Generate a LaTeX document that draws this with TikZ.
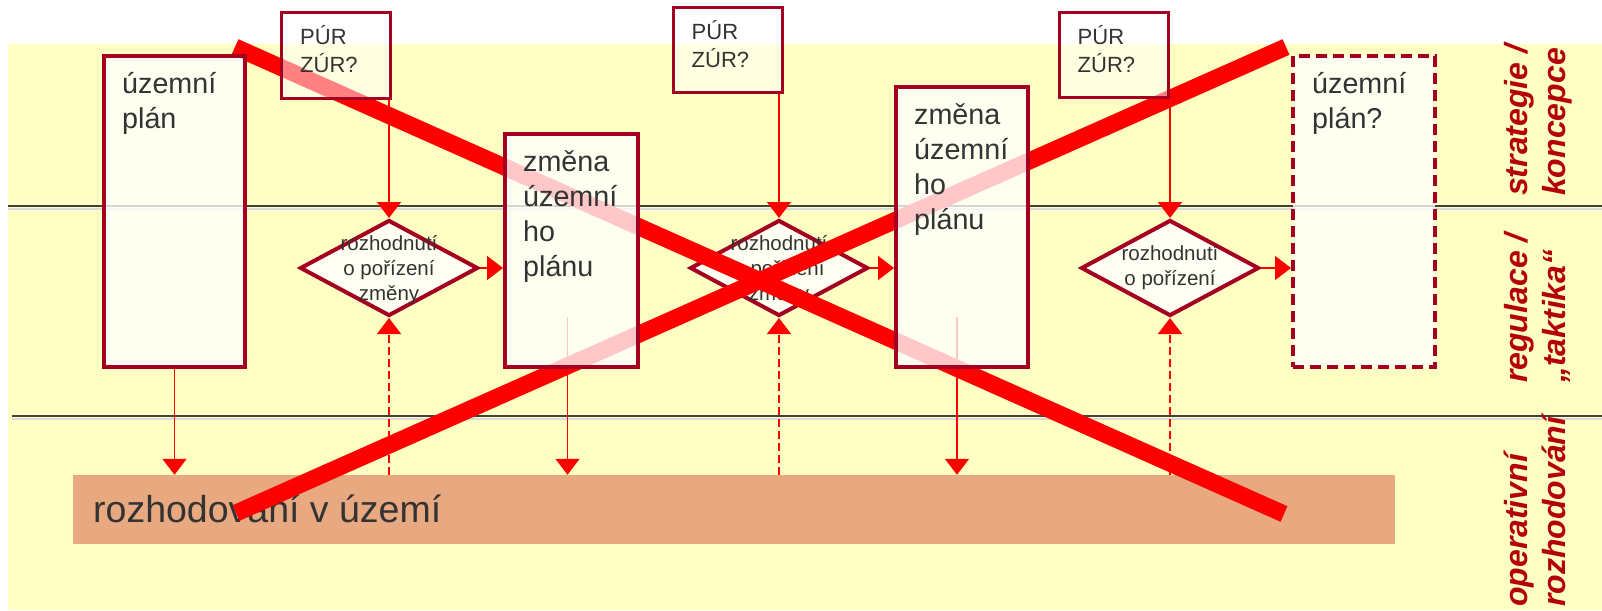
\documentclass[tikz,border=0pt]{standalone}
\usepackage{fontspec}
\setmainfont{Liberation Sans}
\usetikzlibrary{shapes.geometric,arrows.meta}

\definecolor{planred}{RGB}{165,0,33}
\definecolor{crossred}{RGB}{255,0,0}
\definecolor{bgyellow}{RGB}{255,255,195}
\definecolor{bandorange}{RGB}{232,168,128}
\definecolor{labelred}{RGB}{180,0,10}
\definecolor{txtgray}{RGB}{51,51,51}

\pgfdeclarelayer{bg}
\pgfdeclarelayer{mid}
\pgfsetlayers{bg,mid,main}

\begin{document}
\begin{tikzpicture}[x=1pt, y=-1pt,
    plan/.style={draw=planred, line width=4pt, fill=white, fill opacity=0.78, inner sep=0pt},
    pur/.style={draw=planred, line width=3pt, fill=white, fill opacity=0.5, inner sep=0pt,
        minimum width=109pt, minimum height=85pt},
    decision/.style={diamond, draw=planred, line width=4pt, fill=white, fill opacity=0.8, inner sep=0pt,
        minimum width=178pt, minimum height=96pt},
    plantext/.style={anchor=north west, inner sep=0pt, align=left, text=txtgray,
        font=\fontsize{28.7}{35}\selectfont},
    purtext/.style={anchor=north west, inner sep=0pt, align=left, text=txtgray,
        font=\fontsize{22}{28}\selectfont},
    dectext/.style={inner sep=0pt, align=center, text=txtgray, font=\fontsize{20.5}{25}\selectfont},
    flow/.style={draw=crossred, line width=1.5pt, -{Triangle[width=24pt,length=16pt]}},
    maybe/.style={flow, dash pattern=on 8pt off 4pt},
    cross/.style={draw=crossred, line width=17pt},
    level/.style={draw=black!75, line width=2.5pt},
    side/.style={rotate=90, anchor=north west, inner sep=0pt, align=left, text=labelred,
        font=\fontsize{32}{38}\selectfont\bfseries\itshape}]

\useasboundingbox (0,0) rectangle (1602,610);

\begin{pgfonlayer}{bg}
  \fill[bgyellow] (8,44) rectangle (1602,610);
  \draw[gray!30, line width=2pt] (8,208.5) -- (1602,208.5);
  \draw[level] (8,206) -- (1602,206);
  \draw[gray!30, line width=2pt] (12,418.5) -- (1602,418.5);
  \draw[level] (12,416) -- (1602,416);
  \node[fill=bandorange, inner sep=0pt, minimum width=1322pt, minimum height=69pt] (band) at (734,509.5) {};
  \node[anchor=base west, inner sep=0pt, text=txtgray, font=\fontsize{37.5}{40}\selectfont] (bandtext) at (93,522) {rozhodování v území};
\end{pgfonlayer}

\node[plan, minimum width=141pt, minimum height=311pt] (b1) at (174.5,211.5) {};
\node[plan, minimum width=133pt, minimum height=233pt] (b2) at (571.5,250.5) {};
\node[plan, minimum width=132pt, minimum height=280pt] (b3) at (962,227) {};
\node[plan, dash pattern=on 11pt off 6pt, minimum width=142pt, minimum height=311pt] (bq) at (1364,211.5) {};

\node[plantext] (b1t) at ([xshift=20pt,yshift=-18pt]b1.north west) {územní\\plán};
\node[plantext] (b2t) at ([xshift=20pt,yshift=-18pt]b2.north west) {změna\\územní\\ho\\plánu};
\node[plantext] (b3t) at ([xshift=20pt,yshift=-18pt]b3.north west) {změna\\územní\\ho\\plánu};
\node[plantext] (bqt) at ([xshift=21pt,yshift=-18pt]bq.north west) {územní\\plán?};

\foreach \i/\x/\y in {1/336/55.5, 2/727.5/50, 3/1113.5/55} {
  \node[pur] (p\i) at (\x,\y) {};
  \node[purtext] (p\i t) at ([xshift=20pt,yshift=-14pt]p\i.north west) {PÚR\\ZÚR?};
}

\node[side] (lstrat) at (1504,196) {strategie /\\koncepce};
\node[side] (lreg) at (1504,383) {regulace /\\„taktika“};
\node[side] (loper) at (1504,607) {operativní\\rozhodování};

\begin{pgfonlayer}{mid}
  \foreach \i/\x in {1/389, 2/779, 3/1170}
    \node[decision] (d\i) at (\x,268) {};
  \node[dectext] (d1t) at ([yshift=-2pt]d1.center) {rozhodnutí\\o pořízení\\změny};
  \node[dectext] (d2t) at ([yshift=-2pt]d2.center) {rozhodnutí\\o pořízení\\změny};
  \node[dectext] (d3t) at (d3.center) {rozhodnutí\\o pořízení};

  \foreach \i in {1,2,3} {
    \draw[flow] (d\i.north |- p\i.south) -- (d\i.north);
    \draw[maybe] (d\i.south |- band.north) -- (d\i.south);
  }
  \draw[flow] (d1.east) -- (d1.east -| b2.west);
  \draw[flow] (d2.east) -- (d2.east -| b3.west);
  \draw[flow] (d3.east) -- (d3.east -| bq.west);
  \draw[flow] (b1.south) -- (b1.south |- band.north);
  \draw[flow] ([xshift=-4pt,yshift=52pt]b2.south) -- ([xshift=-4pt]b2.south |- band.north);
  \draw[flow] ([xshift=-5pt,yshift=52pt]b3.south) -- ([xshift=-5pt]b3.south |- band.north);

  \draw[cross] (235,47) -- (1284,514);
  \draw[cross] (236,513) -- (1286,47);
\end{pgfonlayer}

\end{tikzpicture}
\end{document}
